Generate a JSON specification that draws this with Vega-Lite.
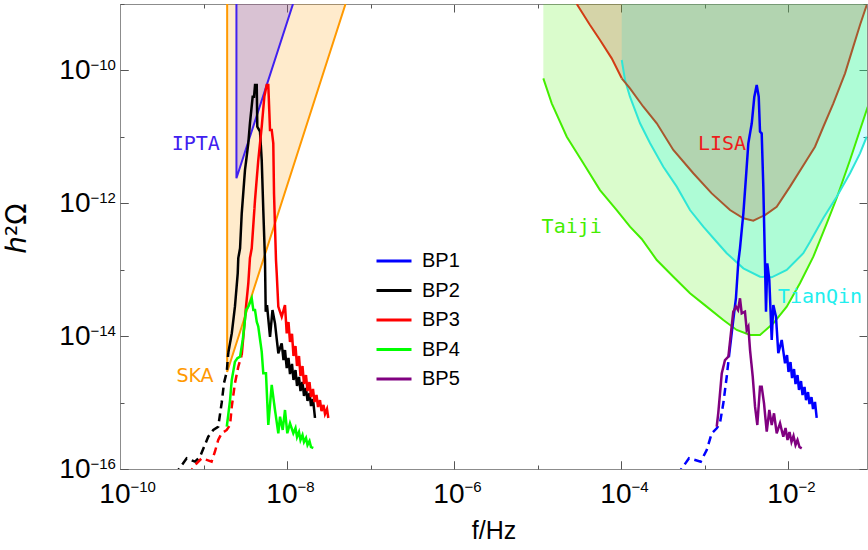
{
 "$schema": "https://vega.github.io/schema/vega-lite/v6.json",
 "width": 747, "height": 465,
 "autosize": {"type": "none"},
 "padding": {"left": 120, "top": 4, "right": 1, "bottom": 81},
 "background": "white",
 "config": {"view": {"stroke": null}, "axis": {"grid": false, "domainColor": "#8c8c8c", "tickColor": "#555555", "labelColor": "black", "titleColor": "black", "labelFont": "Liberation Sans", "titleFont": "Liberation Sans", "titleFontWeight": "normal", "labelFlush": false, "labelOverlap": false, "labelBound": false}},
 "datasets": {
  "curves": [
   {"s":"Taiji","part":"main","f":1.174e-5,"h":7.61e-11},{"s":"Taiji","part":"main","f":1.48e-5,"h":3.20e-11},{"s":"Taiji","part":"main","f":2.24e-5,"h":1.005e-11},{"s":"Taiji","part":"main","f":3.54e-5,"h":4.00e-12},{"s":"Taiji","part":"main","f":5.60e-5,"h":1.58e-12},{"s":"Taiji","part":"main","f":8.88e-5,"h":7.92e-13},{"s":"Taiji","part":"main","f":1.28e-4,"h":4.44e-13},{"s":"Taiji","part":"main","f":1.77e-4,"h":2.90e-13},{"s":"Taiji","part":"main","f":2.68e-4,"h":1.40e-13},{"s":"Taiji","part":"main","f":4.23e-4,"h":7.85e-14},{"s":"Taiji","part":"main","f":6.70e-4,"h":4.42e-14},{"s":"Taiji","part":"main","f":1.062e-3,"h":2.78e-14},{"s":"Taiji","part":"main","f":1.68e-3,"h":1.75e-14},{"s":"Taiji","part":"main","f":2.43e-3,"h":1.24e-14},{"s":"Taiji","part":"main","f":3.51e-3,"h":1.04e-14},{"s":"Taiji","part":"main","f":4.62e-3,"h":1.04e-14},{"s":"Taiji","part":"main","f":6.67e-3,"h":1.56e-14},{"s":"Taiji","part":"main","f":9.65e-3,"h":2.78e-14},{"s":"Taiji","part":"main","f":1.39e-2,"h":6.24e-14},{"s":"Taiji","part":"main","f":2.01e-2,"h":1.57e-13},{"s":"Taiji","part":"main","f":2.91e-2,"h":5.00e-13},{"s":"Taiji","part":"main","f":3.83e-2,"h":1.20e-12},{"s":"Taiji","part":"main","f":5.53e-2,"h":4.48e-12},{"s":"Taiji","part":"main","f":7.28e-2,"h":1.27e-11},{"s":"Taiji","part":"main","f":9.01e-2,"h":2.84e-11},
   {"s":"TianQin","part":"main","f":1.02e-4,"h":1.435e-10},{"s":"TianQin","part":"main","f":1.117e-4,"h":7.17e-11},{"s":"TianQin","part":"main","f":1.28e-4,"h":4.02e-11},{"s":"TianQin","part":"main","f":1.69e-4,"h":1.60e-11},{"s":"TianQin","part":"main","f":2.23e-4,"h":8.00e-12},{"s":"TianQin","part":"main","f":3.21e-4,"h":3.55e-12},{"s":"TianQin","part":"main","f":4.65e-4,"h":1.78e-12},{"s":"TianQin","part":"main","f":6.70e-4,"h":7.92e-13},{"s":"TianQin","part":"main","f":9.67e-4,"h":4.44e-13},{"s":"TianQin","part":"main","f":1.336e-3,"h":2.80e-13},{"s":"TianQin","part":"main","f":1.845e-3,"h":1.77e-13},{"s":"TianQin","part":"main","f":2.92e-3,"h":1.05e-13},{"s":"TianQin","part":"main","f":4.62e-3,"h":7.85e-14},{"s":"TianQin","part":"main","f":6.38e-3,"h":7.69e-14},{"s":"TianQin","part":"main","f":9.65e-3,"h":9.90e-14},{"s":"TianQin","part":"main","f":1.525e-2,"h":1.77e-13},{"s":"TianQin","part":"main","f":1.83e-2,"h":2.61e-13},{"s":"TianQin","part":"main","f":2.65e-2,"h":6.00e-13},{"s":"TianQin","part":"main","f":3.83e-2,"h":1.256e-12},{"s":"TianQin","part":"main","f":5.53e-2,"h":2.83e-12},{"s":"TianQin","part":"main","f":7.28e-2,"h":5.65e-12},{"s":"TianQin","part":"main","f":8.76e-2,"h":1.005e-11},
   {"s":"LISA","part":"a","f":2.95e-5,"h":1e-9},{"s":"LISA","part":"a","f":4.25e-5,"h":4.83e-10},{"s":"LISA","part":"a","f":5.60e-5,"h":2.87e-10},{"s":"LISA","part":"a","f":7.74e-5,"h":1.52e-10},{"s":"LISA","part":"a","f":1.02e-4,"h":7.61e-11},
   {"s":"LISA","part":"b","f":1.02e-4,"h":7.61e-11},{"s":"LISA","part":"b","f":1.28e-4,"h":5.38e-11},{"s":"LISA","part":"b","f":1.85e-4,"h":2.84e-11},{"s":"LISA","part":"b","f":2.68e-4,"h":1.60e-11},{"s":"LISA","part":"b","f":4.23e-4,"h":6.34e-12},{"s":"LISA","part":"b","f":7.34e-4,"h":2.83e-12},{"s":"LISA","part":"b","f":1.22e-3,"h":1.41e-12},{"s":"LISA","part":"b","f":2.02e-3,"h":7.92e-13},{"s":"LISA","part":"b","f":2.92e-3,"h":5.94e-13},{"s":"LISA","part":"b","f":3.84e-3,"h":5.47e-13},{"s":"LISA","part":"b","f":5.30e-3,"h":6.66e-13},{"s":"LISA","part":"b","f":7.32e-3,"h":8.88e-13},{"s":"LISA","part":"b","f":1.057e-2,"h":1.78e-12},{"s":"LISA","part":"b","f":1.675e-2,"h":4.48e-12},{"s":"LISA","part":"b","f":2.105e-2,"h":7.11e-12},{"s":"LISA","part":"b","f":2.65e-2,"h":1.42e-11},{"s":"LISA","part":"b","f":3.49e-2,"h":3.20e-11},{"s":"LISA","part":"b","f":4.82e-2,"h":9.05e-11},{"s":"LISA","part":"b","f":6.05e-2,"h":2.28e-10},{"s":"LISA","part":"b","f":7.28e-2,"h":4.83e-10},{"s":"LISA","part":"b","f":8.76e-2,"h":9.66e-10},
   {"s":"SKA","part":"main","f":1.92e-9,"h":1e-9},{"s":"SKA","part":"main","f":1.92e-9,"h":2.89e-15},{"s":"SKA","part":"main","f":5.02e-8,"h":1e-9},
   {"s":"IPTA","part":"main","f":2.48e-9,"h":1e-9},{"s":"IPTA","part":"main","f":2.48e-9,"h":2.38e-12},{"s":"IPTA","part":"main","f":1.18e-8,"h":1e-9},
   {"s":"BP1","part":"IR","f":4.71e-4,"h":8.12e-17},{"s":"BP1","part":"IR","f":6.52e-4,"h":1.45e-16},{"s":"BP1","part":"IR","f":9.01e-4,"h":1.29e-16},{"s":"BP1","part":"IR","f":1.062e-3,"h":1.93e-16},{"s":"BP1","part":"IR","f":1.22e-3,"h":3.45e-16},{"s":"BP1","part":"IR","f":1.40e-3,"h":4.10e-16},{"s":"BP1","part":"IR","f":1.53e-3,"h":4.88e-16},{"s":"BP1","part":"IR","f":1.68e-3,"h":9.75e-16},{"s":"BP1","part":"IR","f":1.845e-3,"h":2.45e-15},{"s":"BP1","part":"IR","f":1.965e-3,"h":5.02e-15},
   {"s":"BP1","part":"main","f":1.965e-3,"h":5.02e-15},{"s":"BP1","part":"main","f":2.21e-3,"h":1.75e-14},{"s":"BP1","part":"main","f":2.38e-3,"h":3.75e-14},{"s":"BP1","part":"main","f":2.54e-3,"h":1.31e-13},{"s":"BP1","part":"main","f":2.66e-3,"h":2.10e-13},{"s":"BP1","part":"main","f":2.92e-3,"h":7.07e-13},{"s":"BP1","part":"main","f":3.14e-3,"h":2.51e-12},{"s":"BP1","part":"main","f":3.35e-3,"h":8.00e-12},{"s":"BP1","part":"main","f":3.68e-3,"h":1.60e-11},{"s":"BP1","part":"main","f":3.95e-3,"h":4.02e-11},{"s":"BP1","part":"main","f":4.22e-3,"h":6.03e-11},{"s":"BP1","part":"main","f":4.46e-3,"h":4.02e-11},{"s":"BP1","part":"main","f":4.62e-3,"h":1.20e-11},{"s":"BP1","part":"main","f":4.84e-3,"h":1.13e-11},{"s":"BP1","part":"main","f":5.06e-3,"h":1.78e-12},{"s":"BP1","part":"main","f":5.30e-3,"h":1.25e-13},{"s":"BP1","part":"main","f":5.45e-3,"h":2.33e-14},{"s":"BP1","part":"main","f":5.65e-3,"h":1.25e-13},{"s":"BP1","part":"main","f":5.97e-3,"h":7.00e-14},{"s":"BP1","part":"main","f":6.38e-3,"h":8.75e-15},{"s":"BP1","part":"main","f":6.67e-3,"h":2.94e-14},{"s":"BP1","part":"main","f":7.18e-3,"h":1.96e-14},{"s":"BP1","part":"main","f":7.65e-3,"h":5.52e-15},{"s":"BP1","part":"main","f":8.41e-3,"h":8.75e-15},{"s":"BP1","part":"main","f":9.21e-3,"h":3.90e-15},{"s":"BP1","part":"main","f":9.73e-3,"h":5.20e-15},{"s":"BP1","part":"main","f":1.014e-2,"h":2.89e-15},{"s":"BP1","part":"main","f":1.071e-2,"h":4.08e-15},{"s":"BP1","part":"main","f":1.117e-2,"h":2.34e-15},{"s":"BP1","part":"main","f":1.180e-2,"h":3.20e-15},{"s":"BP1","part":"main","f":1.230e-2,"h":1.90e-15},{"s":"BP1","part":"main","f":1.299e-2,"h":2.60e-15},{"s":"BP1","part":"main","f":1.354e-2,"h":1.55e-15},{"s":"BP1","part":"main","f":1.431e-2,"h":2.11e-15},{"s":"BP1","part":"main","f":1.492e-2,"h":1.30e-15},{"s":"BP1","part":"main","f":1.576e-2,"h":1.72e-15},{"s":"BP1","part":"main","f":1.643e-2,"h":1.09e-15},{"s":"BP1","part":"main","f":1.736e-2,"h":1.44e-15},{"s":"BP1","part":"main","f":1.809e-2,"h":9.52e-16},{"s":"BP1","part":"main","f":1.911e-2,"h":1.21e-15},{"s":"BP1","part":"main","f":1.993e-2,"h":8.00e-16},{"s":"BP1","part":"main","f":2.105e-2,"h":1.02e-15},{"s":"BP1","part":"main","f":2.206e-2,"h":5.86e-16},
   {"s":"BP2","part":"IR","f":4.52e-10,"h":8.12e-17},{"s":"BP2","part":"IR","f":6.29e-10,"h":1.45e-16},{"s":"BP2","part":"IR","f":7.91e-10,"h":1.29e-16},{"s":"BP2","part":"IR","f":9.08e-10,"h":1.53e-16},{"s":"BP2","part":"IR","f":1.14e-9,"h":3.06e-16},{"s":"BP2","part":"IR","f":1.31e-9,"h":3.87e-16},{"s":"BP2","part":"IR","f":1.50e-9,"h":4.33e-16},{"s":"BP2","part":"IR","f":1.65e-9,"h":9.85e-16},{"s":"BP2","part":"IR","f":1.76e-9,"h":1.97e-15},{"s":"BP2","part":"IR","f":1.90e-9,"h":2.92e-15},{"s":"BP2","part":"IR","f":1.98e-9,"h":5.58e-15},
   {"s":"BP2","part":"main","f":1.98e-9,"h":5.58e-15},{"s":"BP2","part":"main","f":2.18e-9,"h":1.10e-14},{"s":"BP2","part":"main","f":2.38e-9,"h":2.78e-14},{"s":"BP2","part":"main","f":2.57e-9,"h":8.83e-14},{"s":"BP2","part":"main","f":2.61e-9,"h":1.50e-13},{"s":"BP2","part":"main","f":2.74e-9,"h":2.10e-13},{"s":"BP2","part":"main","f":2.87e-9,"h":7.07e-13},{"s":"BP2","part":"main","f":3.14e-9,"h":3.17e-12},{"s":"BP2","part":"main","f":3.44e-9,"h":8.00e-12},{"s":"BP2","part":"main","f":3.60e-9,"h":1.60e-11},{"s":"BP2","part":"main","f":3.88e-9,"h":4.02e-11},{"s":"BP2","part":"main","f":4.03e-9,"h":4.02e-11},{"s":"BP2","part":"main","f":4.14e-9,"h":6.03e-11},{"s":"BP2","part":"main","f":4.34e-9,"h":6.03e-11},{"s":"BP2","part":"main","f":4.41e-9,"h":1.42e-11},{"s":"BP2","part":"main","f":4.75e-9,"h":1.20e-11},{"s":"BP2","part":"main","f":4.98e-9,"h":4.48e-12},{"s":"BP2","part":"main","f":5.20e-9,"h":7.92e-13},{"s":"BP2","part":"main","f":5.45e-9,"h":1.40e-13},{"s":"BP2","part":"main","f":5.56e-9,"h":2.33e-14},{"s":"BP2","part":"main","f":5.76e-9,"h":2.94e-14},{"s":"BP2","part":"main","f":6.26e-9,"h":9.71e-15},{"s":"BP2","part":"main","f":6.70e-9,"h":2.47e-14},{"s":"BP2","part":"main","f":7.18e-9,"h":1.56e-14},{"s":"BP2","part":"main","f":7.87e-9,"h":5.52e-15},{"s":"BP2","part":"main","f":8.64e-9,"h":7.80e-15},{"s":"BP2","part":"main","f":9.08e-9,"h":4.37e-15},{"s":"BP2","part":"main","f":9.46e-9,"h":6.18e-15},{"s":"BP2","part":"main","f":9.92e-9,"h":3.31e-15},{"s":"BP2","part":"main","f":1.042e-8,"h":4.69e-15},{"s":"BP2","part":"main","f":1.086e-8,"h":2.69e-15},{"s":"BP2","part":"main","f":1.148e-8,"h":3.81e-15},{"s":"BP2","part":"main","f":1.196e-8,"h":2.19e-15},{"s":"BP2","part":"main","f":1.264e-8,"h":3.09e-15},{"s":"BP2","part":"main","f":1.318e-8,"h":1.78e-15},{"s":"BP2","part":"main","f":1.392e-8,"h":2.43e-15},{"s":"BP2","part":"main","f":1.451e-8,"h":1.49e-15},{"s":"BP2","part":"main","f":1.533e-8,"h":2.04e-15},{"s":"BP2","part":"main","f":1.598e-8,"h":1.26e-15},{"s":"BP2","part":"main","f":1.688e-8,"h":1.66e-15},{"s":"BP2","part":"main","f":1.760e-8,"h":1.06e-15},{"s":"BP2","part":"main","f":1.860e-8,"h":1.39e-15},{"s":"BP2","part":"main","f":1.939e-8,"h":8.88e-16},{"s":"BP2","part":"main","f":2.048e-8,"h":1.13e-15},{"s":"BP2","part":"main","f":2.164e-8,"h":5.86e-16},
   {"s":"BP3","part":"IR","f":6.52e-10,"h":8.12e-17},{"s":"BP3","part":"IR","f":8.29e-10,"h":1.22e-16},{"s":"BP3","part":"IR","f":9.51e-10,"h":1.45e-16},{"s":"BP3","part":"IR","f":1.09e-9,"h":1.37e-16},{"s":"BP3","part":"IR","f":1.25e-9,"h":1.29e-16},{"s":"BP3","part":"IR","f":1.37e-9,"h":1.82e-16},{"s":"BP3","part":"IR","f":1.50e-9,"h":2.73e-16},{"s":"BP3","part":"IR","f":1.65e-9,"h":3.45e-16},{"s":"BP3","part":"IR","f":1.90e-9,"h":3.87e-16},{"s":"BP3","part":"IR","f":2.08e-9,"h":4.60e-16},{"s":"BP3","part":"IR","f":2.18e-9,"h":8.67e-16},{"s":"BP3","part":"IR","f":2.38e-9,"h":1.95e-15},{"s":"BP3","part":"IR","f":2.61e-9,"h":3.47e-15},{"s":"BP3","part":"IR","f":2.87e-9,"h":5.20e-15},
   {"s":"BP3","part":"main","f":2.87e-9,"h":5.20e-15},{"s":"BP3","part":"main","f":3.00e-9,"h":9.81e-15},{"s":"BP3","part":"main","f":3.23e-9,"h":2.78e-14},{"s":"BP3","part":"main","f":3.44e-9,"h":6.24e-14},{"s":"BP3","part":"main","f":3.60e-9,"h":1.50e-13},{"s":"BP3","part":"main","f":3.78e-9,"h":2.10e-13},{"s":"BP3","part":"main","f":4.14e-9,"h":1.12e-12},{"s":"BP3","part":"main","f":4.53e-9,"h":4.48e-12},{"s":"BP3","part":"main","f":4.75e-9,"h":8.00e-12},{"s":"BP3","part":"main","f":4.98e-9,"h":1.42e-11},{"s":"BP3","part":"main","f":5.35e-9,"h":4.02e-11},{"s":"BP3","part":"main","f":5.71e-9,"h":6.03e-11},{"s":"BP3","part":"main","f":5.97e-9,"h":6.03e-11},{"s":"BP3","part":"main","f":6.26e-9,"h":1.27e-11},{"s":"BP3","part":"main","f":6.56e-9,"h":1.27e-11},{"s":"BP3","part":"main","f":6.85e-9,"h":8.00e-12},{"s":"BP3","part":"main","f":6.99e-9,"h":1.41e-12},{"s":"BP3","part":"main","f":7.38e-9,"h":1.40e-13},{"s":"BP3","part":"main","f":7.53e-9,"h":8.83e-14},{"s":"BP3","part":"main","f":7.87e-9,"h":2.78e-14},{"s":"BP3","part":"main","f":8.64e-9,"h":1.96e-14},{"s":"BP3","part":"main","f":9.46e-9,"h":2.94e-14},{"s":"BP3","part":"main","f":9.92e-9,"h":1.10e-14},{"s":"BP3","part":"main","f":1.042e-8,"h":1.63e-14},{"s":"BP3","part":"main","f":1.086e-8,"h":8.16e-15},{"s":"BP3","part":"main","f":1.148e-8,"h":1.08e-14},{"s":"BP3","part":"main","f":1.196e-8,"h":5.02e-15},{"s":"BP3","part":"main","f":1.264e-8,"h":7.11e-15},{"s":"BP3","part":"main","f":1.318e-8,"h":3.55e-15},{"s":"BP3","part":"main","f":1.392e-8,"h":5.02e-15},{"s":"BP3","part":"main","f":1.451e-8,"h":2.51e-15},{"s":"BP3","part":"main","f":1.533e-8,"h":3.55e-15},{"s":"BP3","part":"main","f":1.598e-8,"h":1.90e-15},{"s":"BP3","part":"main","f":1.688e-8,"h":2.60e-15},{"s":"BP3","part":"main","f":1.760e-8,"h":1.49e-15},{"s":"BP3","part":"main","f":1.860e-8,"h":2.04e-15},{"s":"BP3","part":"main","f":1.939e-8,"h":1.21e-15},{"s":"BP3","part":"main","f":2.048e-8,"h":1.60e-15},{"s":"BP3","part":"main","f":2.135e-8,"h":1.02e-15},{"s":"BP3","part":"main","f":2.256e-8,"h":1.30e-15},{"s":"BP3","part":"main","f":2.351e-8,"h":8.58e-16},{"s":"BP3","part":"main","f":2.484e-8,"h":1.09e-15},{"s":"BP3","part":"main","f":2.590e-8,"h":7.47e-16},{"s":"BP3","part":"main","f":2.736e-8,"h":9.19e-16},{"s":"BP3","part":"main","f":2.852e-8,"h":6.73e-16},{"s":"BP3","part":"main","f":3.013e-8,"h":8.00e-16},{"s":"BP3","part":"main","f":3.123e-8,"h":5.86e-16},
   {"s":"BP4","part":"main","f":1.90e-9,"h":4.33e-16},{"s":"BP4","part":"main","f":2.08e-9,"h":1.09e-15},{"s":"BP4","part":"main","f":2.18e-9,"h":2.19e-15},{"s":"BP4","part":"main","f":2.38e-9,"h":4.12e-15},{"s":"BP4","part":"main","f":2.54e-9,"h":4.64e-15},{"s":"BP4","part":"main","f":2.74e-9,"h":4.90e-15},{"s":"BP4","part":"main","f":2.95e-9,"h":8.75e-15},{"s":"BP4","part":"main","f":3.23e-9,"h":2.47e-14},{"s":"BP4","part":"main","f":3.44e-9,"h":2.78e-14},{"s":"BP4","part":"main","f":3.78e-9,"h":3.71e-14},{"s":"BP4","part":"main","f":3.95e-9,"h":2.47e-14},{"s":"BP4","part":"main","f":4.14e-9,"h":2.47e-14},{"s":"BP4","part":"main","f":4.34e-9,"h":1.65e-14},{"s":"BP4","part":"main","f":4.53e-9,"h":1.39e-14},{"s":"BP4","part":"main","f":4.98e-9,"h":5.83e-15},{"s":"BP4","part":"main","f":5.20e-9,"h":2.76e-15},{"s":"BP4","part":"main","f":5.60e-9,"h":2.76e-15},{"s":"BP4","part":"main","f":5.97e-9,"h":4.60e-16},{"s":"BP4","part":"main","f":6.56e-9,"h":1.84e-15},{"s":"BP4","part":"main","f":7.18e-9,"h":7.73e-16},{"s":"BP4","part":"main","f":7.87e-9,"h":3.45e-16},{"s":"BP4","part":"main","f":8.25e-9,"h":6.13e-16},{"s":"BP4","part":"main","f":8.88e-9,"h":3.87e-16},{"s":"BP4","part":"main","f":9.46e-9,"h":7.73e-16},{"s":"BP4","part":"main","f":1.008e-8,"h":3.45e-16},{"s":"BP4","part":"main","f":1.086e-8,"h":4.88e-16},{"s":"BP4","part":"main","f":1.19e-8,"h":3.45e-16},{"s":"BP4","part":"main","f":1.264e-8,"h":4.14e-16},{"s":"BP4","part":"main","f":1.318e-8,"h":3.03e-16},{"s":"BP4","part":"main","f":1.392e-8,"h":3.61e-16},{"s":"BP4","part":"main","f":1.451e-8,"h":2.73e-16},{"s":"BP4","part":"main","f":1.533e-8,"h":3.25e-16},{"s":"BP4","part":"main","f":1.598e-8,"h":2.55e-16},{"s":"BP4","part":"main","f":1.688e-8,"h":2.93e-16},{"s":"BP4","part":"main","f":1.760e-8,"h":2.30e-16},{"s":"BP4","part":"main","f":1.860e-8,"h":2.64e-16},{"s":"BP4","part":"main","f":1.939e-8,"h":2.14e-16},{"s":"BP4","part":"main","f":2.065e-8,"h":2.07e-16},
   {"s":"BP5","part":"main","f":1.40e-3,"h":4.33e-16},{"s":"BP5","part":"main","f":1.46e-3,"h":6.89e-16},{"s":"BP5","part":"main","f":1.61e-3,"h":2.76e-15},{"s":"BP5","part":"main","f":1.76e-3,"h":4.37e-15},{"s":"BP5","part":"main","f":1.93e-3,"h":4.90e-15},{"s":"BP5","part":"main","f":2.21e-3,"h":2.33e-14},{"s":"BP5","part":"main","f":2.38e-3,"h":2.78e-14},{"s":"BP5","part":"main","f":2.52e-3,"h":2.47e-14},{"s":"BP5","part":"main","f":2.66e-3,"h":3.71e-14},{"s":"BP5","part":"main","f":2.79e-3,"h":2.21e-14},{"s":"BP5","part":"main","f":3.05e-3,"h":2.33e-14},{"s":"BP5","part":"main","f":3.20e-3,"h":1.24e-14},{"s":"BP5","part":"main","f":3.35e-3,"h":1.39e-14},{"s":"BP5","part":"main","f":3.51e-3,"h":6.18e-15},{"s":"BP5","part":"main","f":3.78e-3,"h":2.45e-15},{"s":"BP5","part":"main","f":4.03e-3,"h":8.67e-16},{"s":"BP5","part":"main","f":4.29e-3,"h":4.60e-16},{"s":"BP5","part":"main","f":4.62e-3,"h":1.73e-15},{"s":"BP5","part":"main","f":4.84e-3,"h":1.73e-15},{"s":"BP5","part":"main","f":5.16e-3,"h":9.75e-16},{"s":"BP5","part":"main","f":5.56e-3,"h":3.64e-16},{"s":"BP5","part":"main","f":5.97e-3,"h":7.73e-16},{"s":"BP5","part":"main","f":6.38e-3,"h":4.60e-16},{"s":"BP5","part":"main","f":6.80e-3,"h":6.89e-16},{"s":"BP5","part":"main","f":7.32e-3,"h":3.45e-16},{"s":"BP5","part":"main","f":8.02e-3,"h":4.88e-16},{"s":"BP5","part":"main","f":8.78e-3,"h":3.06e-16},{"s":"BP5","part":"main","f":9.34e-3,"h":4.14e-16},{"s":"BP5","part":"main","f":9.86e-3,"h":2.73e-16},{"s":"BP5","part":"main","f":1.042e-2,"h":3.61e-16},{"s":"BP5","part":"main","f":1.101e-2,"h":2.55e-16},{"s":"BP5","part":"main","f":1.164e-2,"h":3.14e-16},{"s":"BP5","part":"main","f":1.230e-2,"h":2.30e-16},{"s":"BP5","part":"main","f":1.299e-2,"h":2.73e-16},{"s":"BP5","part":"main","f":1.373e-2,"h":2.14e-16},{"s":"BP5","part":"main","f":1.459e-2,"h":2.05e-16}
  ],
  "labels": [
   {"name":"IPTA","f":8.09e-10,"h":7.80e-12},
   {"name":"SKA","f":7.91e-10,"h":2.51e-15},
   {"name":"LISA","f":1.622e-3,"h":7.80e-12},
   {"name":"Taiji","f":2.568e-5,"h":4.45e-13},
   {"name":"TianQin","f":2.415e-2,"h":3.88e-14}
  ]
 },
 "encoding": {
  "x": {"field":"f","type":"quantitative","scale":{"type":"log","domain":[1e-10,0.0883],"nice":false},"axis":null},
  "y": {"field":"h","type":"quantitative","scale":{"type":"log","domain":[1e-16,1e-9],"nice":false},"axis":null}
 },
 "layer": [
  {"data":{"name":"curves"},"transform":[{"filter":"datum.s == 'Taiji'"}],
   "mark":{"type":"area","clip":true,"color":"#44EE00","opacity":0.2},
   "encoding":{
    "x":{"field":"f","type":"quantitative","axis":{"orient":"bottom","values":[1e-10,1e-8,1e-6,1e-4,1e-2],"labelExpr":"'10'","labelAlign":"right","labelOffset":10,"tickSize":-8,"labelPadding":19,"labelFontSize":28,"title":"f/Hz","titleFontSize":25,"titlePadding":10}},
    "y":{"field":"h","type":"quantitative","axis":{"orient":"left","values":[1e-16,1e-14,1e-12,1e-10],"labelExpr":"'10'","labelAlign":"right","tickSize":-8,"labelPadding":38,"labelFontSize":28,"title":"ℎ²Ω","titleFont":"DejaVu Sans","titleFontSize":28,"titlePadding":27,"titleY":224}},
    "y2":{"datum":1e-9},
    "order":{"value":null}}},
  {"data":{"name":"curves"},"transform":[{"filter":"datum.s == 'TianQin'"}],
   "mark":{"type":"area","clip":true,"color":"#00FFFF","opacity":0.2},
   "encoding":{
    "x":{"field":"f","type":"quantitative","axis":{"orient":"bottom","values":[1e-9,1e-7,1e-5,1e-3],"labels":false,"tickSize":-4,"domain":false,"title":null}},
    "y":{"field":"h","type":"quantitative","axis":{"orient":"left","values":[1e-15,1e-13,1e-11,1e-9],"labels":false,"tickSize":-4,"domain":false,"title":null}},
    "y2":{"datum":1e-9},
    "order":{"value":null}}},
  {"data":{"name":"curves"},"transform":[{"filter":"datum.s == 'LISA'"}],
   "mark":{"type":"area","clip":true,"color":"#C13918","opacity":0.2},
   "encoding":{
    "x":{"field":"f","type":"quantitative","axis":{"orient":"top","values":[1e-10,1e-8,1e-6,1e-4,1e-2],"labels":false,"tickSize":-8,"title":null}},
    "y":{"field":"h","type":"quantitative","axis":{"orient":"right","values":[1e-16,1e-14,1e-12,1e-10],"labels":false,"tickSize":-8,"title":null}},
    "y2":{"datum":1e-9},
    "order":{"value":null}}},
  {"data":{"name":"curves"},"transform":[{"filter":"datum.s == 'SKA'"}],
   "mark":{"type":"area","clip":true,"color":"#FF9900","opacity":0.2},
   "encoding":{
    "x":{"field":"f","type":"quantitative","axis":{"orient":"top","values":[1e-9,1e-7,1e-5,1e-3],"labels":false,"tickSize":-4,"domain":false,"title":null}},
    "y":{"field":"h","type":"quantitative","axis":{"orient":"right","values":[1e-15,1e-13,1e-11,1e-9],"labels":false,"tickSize":-4,"domain":false,"title":null}},
    "y2":{"datum":1e-9},
    "order":{"value":null}}},
  {"data":{"name":"curves"},"transform":[{"filter":"datum.s == 'IPTA'"}],
   "mark":{"type":"area","clip":true,"color":"#4020F0","opacity":0.2},
   "encoding":{
    "x":{"field":"f","type":"quantitative","axis":{"orient":"bottom","values":[1e-10,1e-8,1e-6,1e-4,1e-2],"labelExpr":"datum.value < 3e-10 ? '−10' : datum.value < 3e-8 ? '−8' : datum.value < 3e-6 ? '−6' : datum.value < 3e-4 ? '−4' : '−2'","labelAlign":"left","labelOffset":10,"tickSize":-8,"labelPadding":18,"labelFontSize":15,"domain":false,"title":null}},
    "y":{"field":"h","type":"quantitative","axis":{"orient":"left","values":[1e-16,1e-14,1e-12,1e-10],"labelExpr":"datum.value < 3e-16 ? '−16' : datum.value < 3e-14 ? '−14' : datum.value < 3e-12 ? '−12' : '−10'","labelAlign":"left","labelOffset":-6,"tickSize":-8,"labelPadding":38,"labelFontSize":15,"domain":false,"title":null}},
    "y2":{"datum":1e-9},"order":{"value":null}}},
  {"data":{"name":"curves"},"transform":[{"filter":"datum.s == 'Taiji'"}],
   "mark":{"type":"line","clip":true,"color":"#44EE00","strokeWidth":2},
   "encoding":{"order":{"value":null}}},
  {"data":{"name":"curves"},"transform":[{"filter":"datum.s == 'TianQin'"}],
   "mark":{"type":"line","clip":true,"color":"#2FE6D6","strokeWidth":2},
   "encoding":{"order":{"value":null}}},
  {"data":{"name":"curves"},"transform":[{"filter":"datum.s == 'LISA' && datum.part == 'a'"}],
   "mark":{"type":"line","clip":true,"color":"#D23C14","strokeWidth":2},
   "encoding":{"order":{"value":null}}},
  {"data":{"name":"curves"},"transform":[{"filter":"datum.s == 'LISA' && datum.part == 'b'"}],
   "mark":{"type":"line","clip":true,"color":"#A8582E","strokeWidth":2},
   "encoding":{"order":{"value":null}}},
  {"data":{"name":"curves"},"transform":[{"filter":"datum.s == 'SKA'"}],
   "mark":{"type":"line","clip":true,"color":"#FF9900","strokeWidth":2},
   "encoding":{"order":{"value":null}}},
  {"data":{"name":"curves"},"transform":[{"filter":"datum.s == 'IPTA'"}],
   "mark":{"type":"line","clip":true,"color":"#4020F0","strokeWidth":2},
   "encoding":{"order":{"value":null}}},
  {"data":{"name":"curves"},"transform":[{"filter":{"field":"s","oneOf":["BP1","BP2","BP3","BP4","BP5"]}}],
   "mark":{"type":"line","clip":true,"strokeWidth":2.5},
   "encoding":{
    "color":{"field":"s","type":"nominal","scale":{"domain":["BP1","BP2","BP3","BP4","BP5"],"range":["#0000FF","#000000","#FF0000","#00FF00","#800080"]},
      "legend":{"orient":"none","legendX":255,"legendY":238,"title":null,"symbolType":"stroke","symbolSize":1225,"symbolStrokeWidth":3,"labelFont":"Liberation Sans","labelFontSize":20,"labelOffset":9,"rowPadding":0.5,"padding":0}},
    "strokeDash":{"field":"part","type":"nominal","scale":{"domain":["main","IR"],"range":[[1,0],[8,5]]},"legend":null},
    "order":{"value":null}}},
  {"data":{"name":"labels"},"transform":[{"filter":"datum.name != 'SKA'"}],
   "mark":{"type":"text","font":"DejaVu Sans Mono","fontSize":20,"align":"center","baseline":"middle"},
   "encoding":{
    "text":{"field":"name","type":"nominal"},
    "color":{"field":"name","type":"nominal","scale":{"domain":["IPTA","LISA","Taiji","TianQin"],"range":["#4020F0","#EE1C1C","#44EE00","#22EEEE"]},"legend":null}}},
  {"data":{"name":"labels"},"transform":[{"filter":"datum.name == 'SKA'"}],
   "mark":{"type":"text","font":"DejaVu Sans","fontSize":19,"align":"center","baseline":"middle","color":"#FF9900"},
   "encoding":{"text":{"field":"name","type":"nominal"}}}
 ],
 "resolve": {"axis": {"x": "independent", "y": "independent"}, "scale": {"color": "independent"}}
}
